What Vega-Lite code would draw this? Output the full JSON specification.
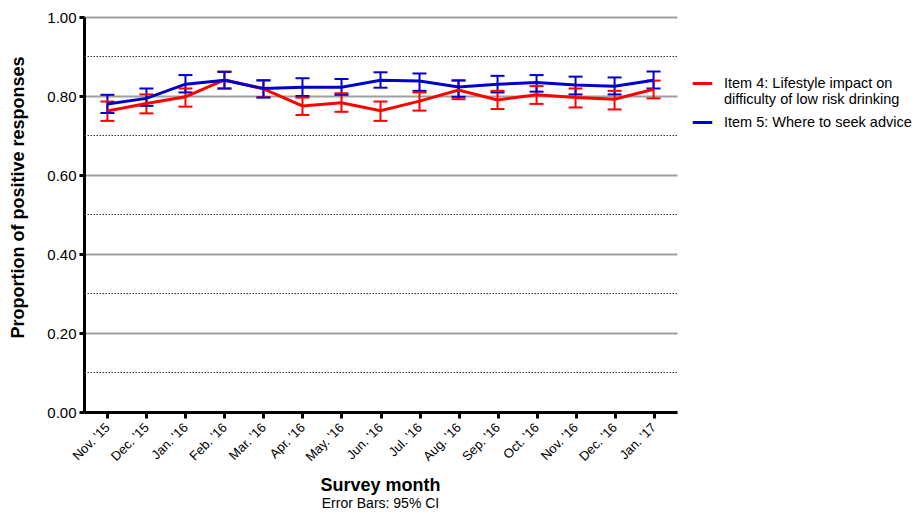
{
  "$schema": "https://vega.github.io/schema/vega-lite/v6.json",
  "width": 593,
  "height": 395,
  "autosize": {"type": "none"},
  "padding": {"left": 84, "top": 17, "right": 245, "bottom": 101},
  "background": "white",
  "config": {
    "font": "Liberation Sans",
    "view": {"stroke": null}
  },
  "title": {
    "text": "Survey month",
    "subtitle": "Error Bars: 95% CI",
    "orient": "bottom",
    "anchor": "middle",
    "font": "Liberation Sans",
    "fontSize": 18,
    "fontWeight": "bold",
    "color": "black",
    "subtitleFont": "Liberation Sans",
    "subtitleFontSize": 14,
    "subtitleColor": "black",
    "subtitlePadding": 2,
    "offset": 13
  },
  "datasets": {
    "minor": [{"g": 0.1}, {"g": 0.3}, {"g": 0.5}, {"g": 0.7}, {"g": 0.9}],
    "main": [
      {"month": "Nov. '15", "series": "Item 4", "value": 0.762, "lo": 0.737, "hi": 0.786},
      {"month": "Dec. '15", "series": "Item 4", "value": 0.781, "lo": 0.756, "hi": 0.804},
      {"month": "Jan. '16", "series": "Item 4", "value": 0.798, "lo": 0.773, "hi": 0.819},
      {"month": "Feb. '16", "series": "Item 4", "value": 0.841, "lo": 0.819, "hi": 0.862},
      {"month": "Mar. '16", "series": "Item 4", "value": 0.818, "lo": 0.797, "hi": 0.839},
      {"month": "Apr. '16", "series": "Item 4", "value": 0.775, "lo": 0.752, "hi": 0.796},
      {"month": "May. '16", "series": "Item 4", "value": 0.783, "lo": 0.760, "hi": 0.807},
      {"month": "Jun. '16", "series": "Item 4", "value": 0.763, "lo": 0.737, "hi": 0.786},
      {"month": "Jul. '16", "series": "Item 4", "value": 0.787, "lo": 0.763, "hi": 0.809},
      {"month": "Aug. '16", "series": "Item 4", "value": 0.815, "lo": 0.792, "hi": 0.840},
      {"month": "Sep. '16", "series": "Item 4", "value": 0.790, "lo": 0.767, "hi": 0.813},
      {"month": "Oct. '16", "series": "Item 4", "value": 0.803, "lo": 0.780, "hi": 0.825},
      {"month": "Nov. '16", "series": "Item 4", "value": 0.796, "lo": 0.771, "hi": 0.819},
      {"month": "Dec. '16", "series": "Item 4", "value": 0.792, "lo": 0.766, "hi": 0.813},
      {"month": "Jan. '17", "series": "Item 4", "value": 0.817, "lo": 0.794, "hi": 0.839},
      {"month": "Nov. '15", "series": "Item 5", "value": 0.780, "lo": 0.757, "hi": 0.803},
      {"month": "Dec. '15", "series": "Item 5", "value": 0.794, "lo": 0.775, "hi": 0.819},
      {"month": "Jan. '16", "series": "Item 5", "value": 0.830, "lo": 0.809, "hi": 0.853},
      {"month": "Feb. '16", "series": "Item 5", "value": 0.840, "lo": 0.819, "hi": 0.861},
      {"month": "Mar. '16", "series": "Item 5", "value": 0.819, "lo": 0.796, "hi": 0.840},
      {"month": "Apr. '16", "series": "Item 5", "value": 0.822, "lo": 0.800, "hi": 0.845},
      {"month": "May. '16", "series": "Item 5", "value": 0.822, "lo": 0.803, "hi": 0.843},
      {"month": "Jun. '16", "series": "Item 5", "value": 0.840, "lo": 0.821, "hi": 0.860},
      {"month": "Jul. '16", "series": "Item 5", "value": 0.838, "lo": 0.813, "hi": 0.857},
      {"month": "Aug. '16", "series": "Item 5", "value": 0.823, "lo": 0.798, "hi": 0.839},
      {"month": "Sep. '16", "series": "Item 5", "value": 0.830, "lo": 0.809, "hi": 0.851},
      {"month": "Oct. '16", "series": "Item 5", "value": 0.834, "lo": 0.811, "hi": 0.853},
      {"month": "Nov. '16", "series": "Item 5", "value": 0.828, "lo": 0.804, "hi": 0.849},
      {"month": "Dec. '16", "series": "Item 5", "value": 0.825, "lo": 0.804, "hi": 0.847},
      {"month": "Jan. '17", "series": "Item 5", "value": 0.840, "lo": 0.819, "hi": 0.862}
    ]
  },
  "layer": [
    {
      "data": {"name": "minor"},
      "mark": {"type": "rule", "stroke": "#333333", "strokeWidth": 1, "strokeDash": [1.5, 1.5]},
      "encoding": {
        "y": {
          "field": "g",
          "type": "quantitative",
          "scale": {"domain": [0, 1], "nice": false},
          "axis": {
            "title": "Proportion of positive responses",
            "titleFont": "Liberation Sans",
            "titleFontSize": 18,
            "titleFontWeight": "bold",
            "titleColor": "black",
            "titleY": 180,
            "titlePadding": 19,
            "values": [0, 0.2, 0.4, 0.6, 0.8, 1.0],
            "format": ".2f",
            "labelFont": "Liberation Sans",
            "labelFontSize": 15,
            "labelColor": "black",
            "labelPadding": 3,
            "domainColor": "black",
            "domainWidth": 3,
            "tickColor": "black",
            "tickWidth": 3,
            "tickSize": 5,
            "grid": true,
            "gridColor": "#a0a0a0",
            "gridWidth": 2
          }
        }
      }
    },
    {
      "data": {"name": "main"},
      "encoding": {
        "x": {
          "field": "month",
          "type": "ordinal",
          "sort": null,
          "scale": {"type": "point", "padding": 0.6},
          "axis": {
            "title": null,
            "labelAngle": -45,
            "labelAlign": "right",
            "labelBaseline": "middle",
            "labelFont": "Liberation Sans",
            "labelFontSize": 13,
            "labelColor": "black",
            "labelPadding": 7,
            "domainColor": "black",
            "domainWidth": 3,
            "tickColor": "black",
            "tickWidth": 3,
            "tickSize": 6,
            "grid": false
          }
        },
        "color": {
          "field": "series",
          "type": "nominal",
          "scale": {"domain": ["Item 4", "Item 5"], "range": ["#ff0000", "#0000cc"]},
          "legend": {
            "title": null,
            "orient": "none",
            "legendX": 607,
            "legendY": 55,
            "symbolType": "stroke",
            "symbolSize": 380,
            "symbolStrokeWidth": 3,
            "symbolOpacity": 1,
            "labelFont": "Liberation Sans",
            "labelFontSize": 14.5,
            "labelColor": "black",
            "labelLimit": 300,
            "labelOffset": 10,
            "rowPadding": 4,
            "labelExpr": "datum.label == 'Item 4' ? ['Item 4: Lifestyle impact on', 'difficulty of low risk drinking'] : 'Item 5: Where to seek advice'"
          }
        }
      },
      "layer": [
        {
          "mark": {"type": "rule", "strokeWidth": 2, "opacity": 1},
          "encoding": {
            "y": {"field": "lo", "type": "quantitative"},
            "y2": {"field": "hi"}
          }
        },
        {
          "mark": {"type": "tick", "orient": "horizontal", "size": 14, "thickness": 2, "opacity": 1},
          "encoding": {"y": {"field": "lo", "type": "quantitative"}}
        },
        {
          "mark": {"type": "tick", "orient": "horizontal", "size": 14, "thickness": 2, "opacity": 1},
          "encoding": {"y": {"field": "hi", "type": "quantitative"}}
        },
        {
          "mark": {"type": "line", "strokeWidth": 3, "opacity": 1},
          "encoding": {"y": {"field": "value", "type": "quantitative"}}
        }
      ]
    }
  ]
}
